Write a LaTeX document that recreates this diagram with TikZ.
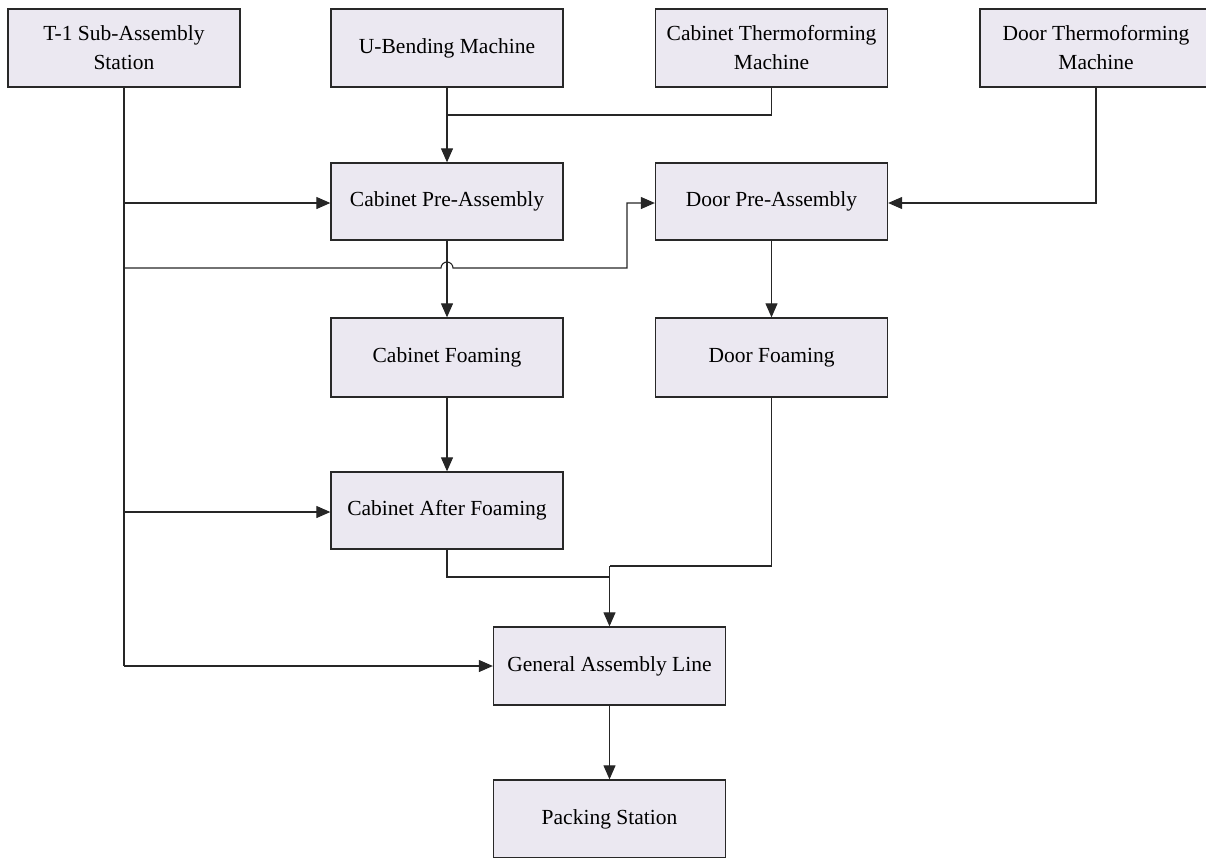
\documentclass[tikz,border=0pt]{standalone}
\usepackage{fontspec}
\setmainfont{Liberation Serif}
\usetikzlibrary{arrows.meta}
\definecolor{boxfill}{RGB}{235,232,241}
\definecolor{boxline}{RGB}{40,40,40}
\begin{document}
\begin{tikzpicture}[x=1pt,y=-1pt,
  proc/.style={draw=boxline, line width=1.3pt, fill=boxfill, minimum width=232pt, minimum height=78pt,
    inner sep=2pt, align=center, font=\fontsize{21.5}{29}\selectfont},
  conn/.style={line width=1.1pt, draw=black!85},
  arr/.style={conn, -{Triangle[length=14pt,width=12pt]}}]
\useasboundingbox (0,0) rectangle (1206,857);
\node[proc] (t1) at (124,48) {T-1 Sub-Assembly\\Station};
\node[proc] (ub) at (447,48) {U-Bending Machine};
\node[proc] (ct) at (771.5,48) {Cabinet Thermoforming\\Machine};
\node[proc] (dt) at (1096,48) {Door Thermoforming\\Machine};
\node[proc, minimum height=77pt] (cpa) at (447,201.5) {Cabinet Pre-Assembly};
\node[proc, minimum height=77pt] (dpa) at (771.5,201.5) {Door Pre-Assembly};
\node[proc, minimum height=79pt] (cf) at (447,357.5) {Cabinet Foaming};
\node[proc, minimum height=79pt] (df) at (771.5,357.5) {Door Foaming};
\node[proc, minimum height=77pt] (caf) at (447,510.5) {Cabinet After Foaming};
\node[proc] (gal) at (609.5,666) {General Assembly Line};
\node[proc] (ps) at (609.5,819) {Packing Station};
% junction coordinates
\coordinate (tb1) at (124,203);
\coordinate (tb2) at (124,268);
\coordinate (tb3) at (124,512);
\coordinate (tend) at (124,666);
\coordinate (hopL) at (441,268);
\coordinate (dcorner1) at (627,268);
\coordinate (dcorner2) at (627,203);
\coordinate (ctm) at (771.5,115);
\coordinate (ctj) at (447,115);
\coordinate (dtc) at (1096,203);
\coordinate (dfc) at (771.5,566);
\coordinate (mrg) at (609.5,566);
\coordinate (cafc1) at (447,577);
\coordinate (cafc2) at (609.5,577);
% T-1 trunk
\draw[conn] (t1.south) -- (tend);
\draw[arr] (tb1) -- (cpa.west |- tb1);
\draw[arr] (tb3) -- (caf.west |- tb3);
\draw[arr] (tend) -- (gal.west);
\draw[arr] (tb2) -- (hopL) arc[start angle=180, end angle=0, radius=6pt] -- (dcorner1) -- (dcorner2) -- (dpa.west |- dcorner2);
% top machines
\draw[arr] (ub.south) -- (cpa.north);
\draw[conn] (ct.south) -- (ctm) -- (ctj);
\draw[arr] (dt.south -| dtc) -- (dtc) -- (dpa.east |- dtc);
% vertical flows
\draw[arr] (cpa.south) -- (cf.north);
\draw[arr] (dpa.south) -- (df.north);
\draw[arr] (cf.south) -- (caf.north);
\draw[conn] (df.south) -- (dfc) -- (mrg);
\draw[conn] (caf.south) -- (cafc1) -- (cafc2);
\draw[arr] (mrg) -- (gal.north);
\draw[arr] (gal.south) -- (ps.north);
\end{tikzpicture}
\end{document}
